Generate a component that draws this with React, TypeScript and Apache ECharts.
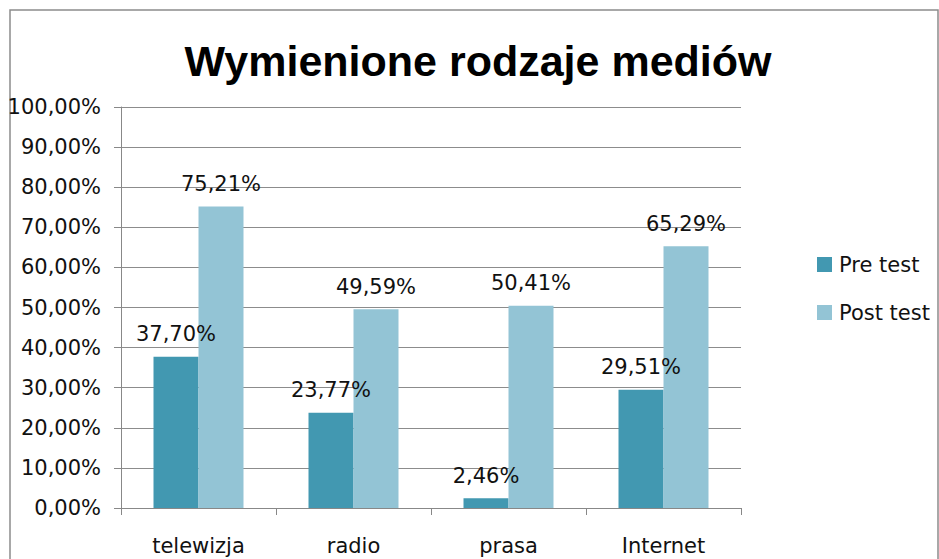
import React, { useEffect, useRef } from "react";
import * as echarts from "echarts";

const categories = ["telewizja", "radio", "prasa", "Internet"];
const preTest = [37.7, 23.77, 2.46, 29.51];
const postTest = [75.21, 49.59, 50.41, 65.29];
const titleText = "Wymienione rodzaje mediów";
const seriesNames = ["Pre test", "Post test"];

const fmt = (v: number) => v.toFixed(2).replace(".", ",") + "%";
const FONT = "'Liberation Sans', Arial, sans-serif";
const WIDE = "'DejaVu Sans', sans-serif";

export default function App() {
  const ref = useRef<HTMLDivElement>(null);
  useEffect(() => {
    if (!ref.current) return;
    const chart = echarts.init(ref.current, undefined, { renderer: "svg" });
    const labelStyle = {
      show: true,
      position: "top" as const,
      distance: 12,
      formatter: (p: any) => fmt(p.value),
      fontSize: 21,
      color: "#111",
      fontFamily: WIDE,
    };
    chart.setOption({
      animation: false,
      backgroundColor: "#fff",
      textStyle: { fontFamily: WIDE },
      graphic: [
        {
          type: "rect",
          shape: { x: 10, y: 10, width: 928, height: 570 },
          style: { fill: "none", stroke: "#8c8c8c", lineWidth: 1.5 },
          silent: true,
        },
      ],
      title: {
        text: titleText,
        left: 473,
        textAlign: "center",
        top: 34,
        textStyle: { fontSize: 43, fontWeight: "bold", color: "#000", fontFamily: FONT },
      },
      legend: {
        orient: "vertical",
        left: 812,
        top: 249,
        itemWidth: 15,
        itemHeight: 15,
        itemGap: 27,
        icon: "rect",
        textStyle: { fontSize: 21, color: "#111", fontFamily: WIDE, padding: [0, 0, 0, 2] },
        data: seriesNames,
      },
      grid: { left: 121, right: 198, top: 107, bottom: 51, containLabel: false },
      xAxis: {
        type: "category",
        data: categories,
        axisLine: { lineStyle: { color: "#888", width: 1 } },
        axisTick: { show: true, length: 7, lineStyle: { color: "#888" } },
        axisLabel: { fontSize: 21, color: "#111", margin: 27, fontFamily: WIDE },
      },
      yAxis: {
        type: "value",
        min: 0,
        max: 100,
        interval: 10,
        axisLine: { show: true, lineStyle: { color: "#888", width: 1 } },
        axisTick: { show: true, length: 7, lineStyle: { color: "#888" } },
        splitLine: { lineStyle: { color: "#8c8c8c", width: 1 } },
        axisLabel: { fontSize: 21, color: "#111", margin: 20, formatter: fmt, fontFamily: WIDE },
      },
      series: [
        {
          name: seriesNames[0],
          type: "bar",
          data: preTest,
          barWidth: 45,
          barGap: "0%",
          itemStyle: { color: "#4298b1" },
          label: labelStyle,
        },
        {
          name: seriesNames[1],
          type: "bar",
          data: postTest,
          barWidth: 45,
          barGap: "0%",
          itemStyle: { color: "#93c4d5" },
          label: labelStyle,
        },
      ],
    });
    return () => chart.dispose();
  }, []);
  return <div ref={ref} style={{ width: 939, height: 559, position: "absolute", left: 0, top: 0 }} />;
}
